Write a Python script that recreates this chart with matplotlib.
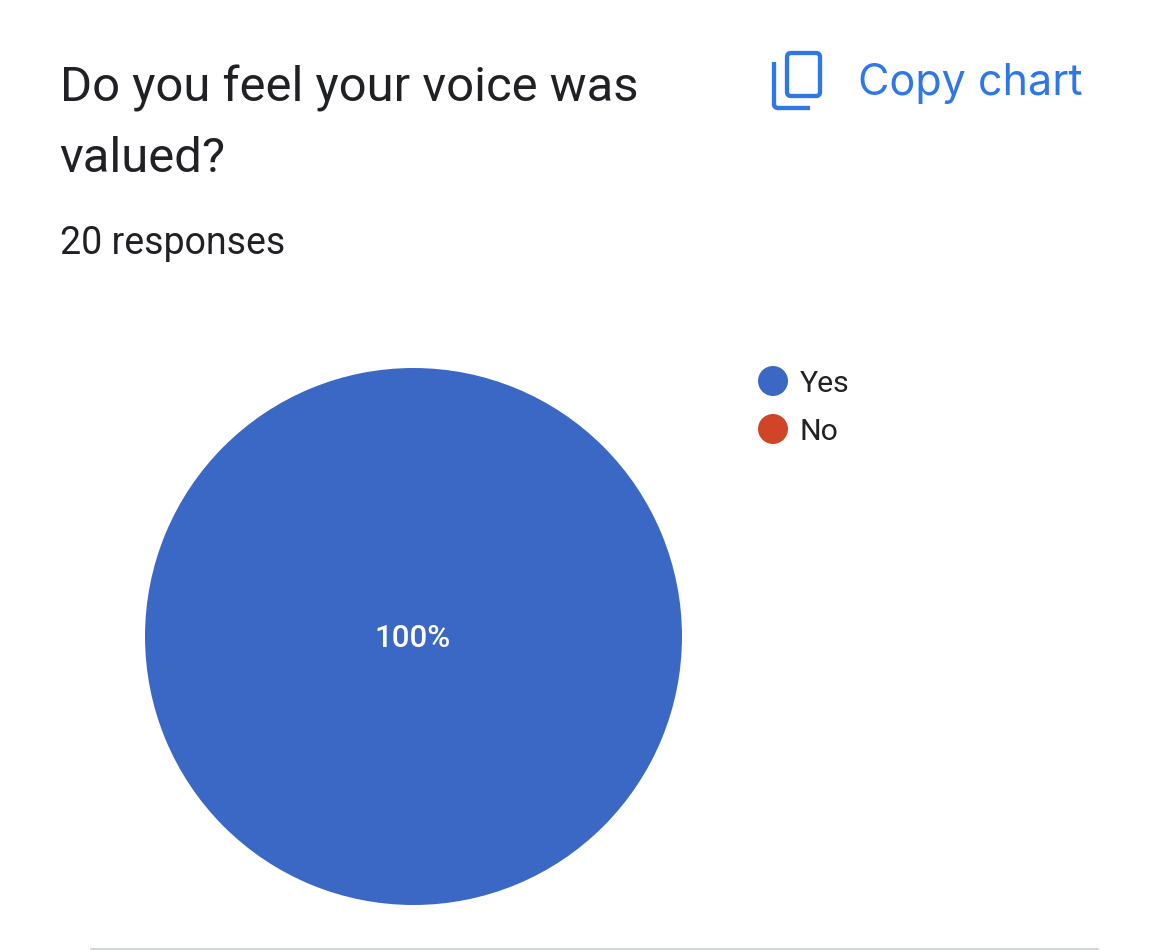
import matplotlib
matplotlib.use("Agg")
import matplotlib.pyplot as plt
from matplotlib.patches import FancyBboxPatch, Circle, PathPatch
from matplotlib.path import Path

categories = ["Yes", "No"]
values = [100, 0]
colors = ["#3c68c5", "#d04527"]
title_lines = ["Do you feel your voice was", "valued?"]
subtitle = "20 responses"
button = "Copy chart"
W, H = 1157, 950
plt.rcParams['font.family'] = ['Roboto', 'DejaVu Sans']

fig = plt.figure(figsize=(W/100, H/100), dpi=100)
bg = fig.add_axes([0, 0, 1, 1])
bg.set_xlim(0, W); bg.set_ylim(H, 0); bg.axis('off')
bg.text(59.5, 88, title_lines[0], fontsize=35.3, color="#202124", va='center')
bg.text(59.5, 159, title_lines[1], fontsize=35.3, color="#202124", va='center')
bg.text(59.5, 244, subtitle, fontsize=27, color="#202124", va='center')
blue = "#2f77e6"
bg.text(858, 83, button, fontsize=31, color=blue, va='center', family=['Inter', 'DejaVu Sans'])
bg.add_patch(FancyBboxPatch((787, 53), 33, 43, boxstyle="round,pad=0,rounding_size=4", fc='none', ec=blue, lw=3.1))
bg.add_patch(PathPatch(Path([(774, 62), (774, 104), (774, 108), (778, 108), (810, 108)],
                            [Path.MOVETO, Path.LINETO, Path.CURVE3, Path.CURVE3, Path.LINETO]),
                       fc='none', ec=blue, lw=3.1, joinstyle='round', capstyle='butt'))
bg.plot([91, 1098], [949, 949], color="#d5d6dc", lw=1.5)

ax = fig.add_axes([145/W, 1-905/H, 537/W, 537/H])
wedges, _ = ax.pie(values, colors=colors, radius=1, startangle=90, counterclock=False)
ax.set_xlim(-1, 1); ax.set_ylim(-1, 1)
ax.text(-0.003, -0.008, f"{values[0]}%", color="white", fontsize=22.5, ha='center', va='center', fontweight='medium')

for y, c, lab in zip([381, 429], colors, categories):
    bg.add_patch(Circle((773, y), 15, fc=c, ec='none'))
    bg.text(800, y + 3, lab, fontsize=21.8, color="#222222", va='center')
fig.savefig("out.png", dpi=100)
